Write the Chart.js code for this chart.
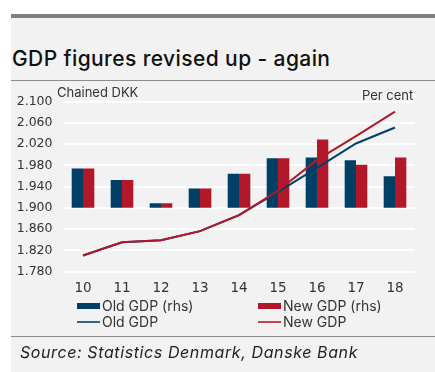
<!DOCTYPE html>
<html>
<head>
<meta charset="utf-8">
<script src="https://cdn.jsdelivr.net/npm/chart.js@4"></script>
<style>
  body { margin: 0; background: #fff; width: 435px; height: 372px; overflow: hidden; position: relative; font-family: Inter, "Open Sans", sans-serif; color: #333; }
  #panel { position: absolute; left: 11px; top: 14px; width: 424px; height: 358px; background: #f2f2f2; }
  #topbar { position: absolute; left: 11px; top: 14px; width: 424px; height: 4px; background: #808080; }
  #rule1 { position: absolute; left: 11px; top: 80px; width: 424px; height: 1px; background: #8c8c8c; }
  #rule2 { position: absolute; left: 11px; top: 336px; width: 424px; height: 1px; background: #8c8c8c; }
  #title { position: absolute; left: 12px; top: 46px; font-size: 21px; font-weight: 500; letter-spacing: 0.4px; color: #111; white-space: nowrap; }
  #source { position: absolute; left: 20px; top: 342px; font-size: 16px; font-style: italic; letter-spacing: 0.6px; color: #222; white-space: nowrap; }
  .unit { position: absolute; font-size: 13px; color: #333; white-space: nowrap; }
  #wrap { position: absolute; left: 0; top: 80px; width: 470px; height: 220px; }
  #legend { position: absolute; top: 297px; left: 0; width: 435px; height: 34px; font-size: 14px; color: #333; }
  .item { position: absolute; display: flex; align-items: center; white-space: nowrap; }
  .sw { display: inline-block; width: 23px; margin-right: 2px; }
</style>
</head>
<body>
<div id="panel"></div>
<div id="topbar"></div>
<div id="rule1"></div>
<div id="title">GDP figures revised up - again</div>
<div id="wrap"><canvas id="gdpChart"></canvas></div>
<div class="unit" style="left:57px; top:84px;">Chained DKK</div>
<div class="unit" style="left:362px; top:87px;">Per cent</div>
<div id="legend"></div>
<div id="rule2"></div>
<div id="source">Source: Statistics Denmark, Danske Bank</div>
<script>
const years = ['10', '11', '12', '13', '14', '15', '16', '17', '18'];
const oldGrowth = [1.85, 1.31, 0.21, 0.91, 1.60, 2.33, 2.37, 2.24, 1.48];
const newGrowth = [1.85, 1.31, 0.21, 0.91, 1.60, 2.33, 3.21, 2.02, 2.37];
const oldLevel = [1810, 1835, 1839, 1856, 1886, 1930, 1975, 2021, 2051];
const newLevel = [1810, 1835, 1839, 1856, 1886, 1932, 1990, 2035, 2081];

const navy = '#003f66';
const red = '#b3182a';
const tickFont = { family: 'DejaVu Sans', size: 12.5 };

const ctx = document.getElementById('gdpChart').getContext('2d');
const chart = new Chart(ctx, {
    type: 'bar',
    data: {
        labels: years,
        datasets: [
            { type: 'line', label: 'New GDP', data: newLevel, yAxisID: 'y', borderColor: red, borderWidth: 2, pointRadius: 0, tension: 0, order: 0 },
            { type: 'line', label: 'Old GDP', data: oldLevel, yAxisID: 'y', borderColor: navy, borderWidth: 2, pointRadius: 0, tension: 0, order: 1 },
            { label: 'Old GDP (rhs)', data: oldGrowth, yAxisID: 'y1', backgroundColor: navy, order: 2 },
            { label: 'New GDP (rhs)', data: newGrowth, yAxisID: 'y1', backgroundColor: red, order: 3 }
        ]
    },
    options: {
        responsive: true,
        maintainAspectRatio: false,
        animation: false,
        layout: { padding: { top: 12.5, bottom: 0 } },
        datasets: { bar: { categoryPercentage: 0.58, barPercentage: 1 } },
        plugins: {
            legend: { display: false },
            tooltip: { enabled: false }
        },
        scales: {
            x: {
                grid: { display: false, drawTicks: false },
                border: { display: false },
                ticks: { color: '#333', font: { family: 'DejaVu Sans', size: 13.5 }, padding: 9 },
                afterFit: function (scale) { scale.height = 28.5; }
            },
            y: {
                position: 'left',
                min: 1780,
                max: 2100,
                ticks: {
                    stepSize: 40,
                    color: '#333',
                    font: tickFont,
                    padding: 11,
                    callback: function (v) { return (v / 1000).toFixed(3); }
                },
                grid: { color: '#ffffff', lineWidth: 2, drawTicks: false },
                border: { display: false },
                afterFit: function (scale) { scale.width = 63.5; }
            },
            y1: {
                position: 'right',
                min: -3,
                max: 5,
                ticks: { stepSize: 1, color: '#333', font: tickFont, padding: 14 },
                grid: { display: false },
                border: { display: false },
                afterFit: function (scale) { scale.width = 55.5; }
            }
        }
    }
});

// legend built from the datasets
const legendPos = {
    'Old GDP (rhs)': [77, 0], 'New GDP (rhs)': [258, 0],
    'Old GDP': [77, 16], 'New GDP': [258, 16]
};
const legendEl = document.getElementById('legend');
chart.data.datasets.forEach(function (ds) {
    const p = legendPos[ds.label];
    const item = document.createElement('div');
    item.className = 'item';
    item.style.left = p[0] + 'px';
    item.style.top = p[1] + 'px';
    const sw = document.createElement('span');
    sw.className = 'sw';
    if (ds.type === 'line') {
        sw.style.height = '2px';
        sw.style.background = ds.borderColor;
        sw.style.opacity = '0.8';
    } else {
        sw.style.height = '6px';
        sw.style.background = ds.backgroundColor;
    }
    item.appendChild(sw);
    item.appendChild(document.createTextNode(ds.label));
    legendEl.appendChild(item);
});
</script>
</body>
</html>
